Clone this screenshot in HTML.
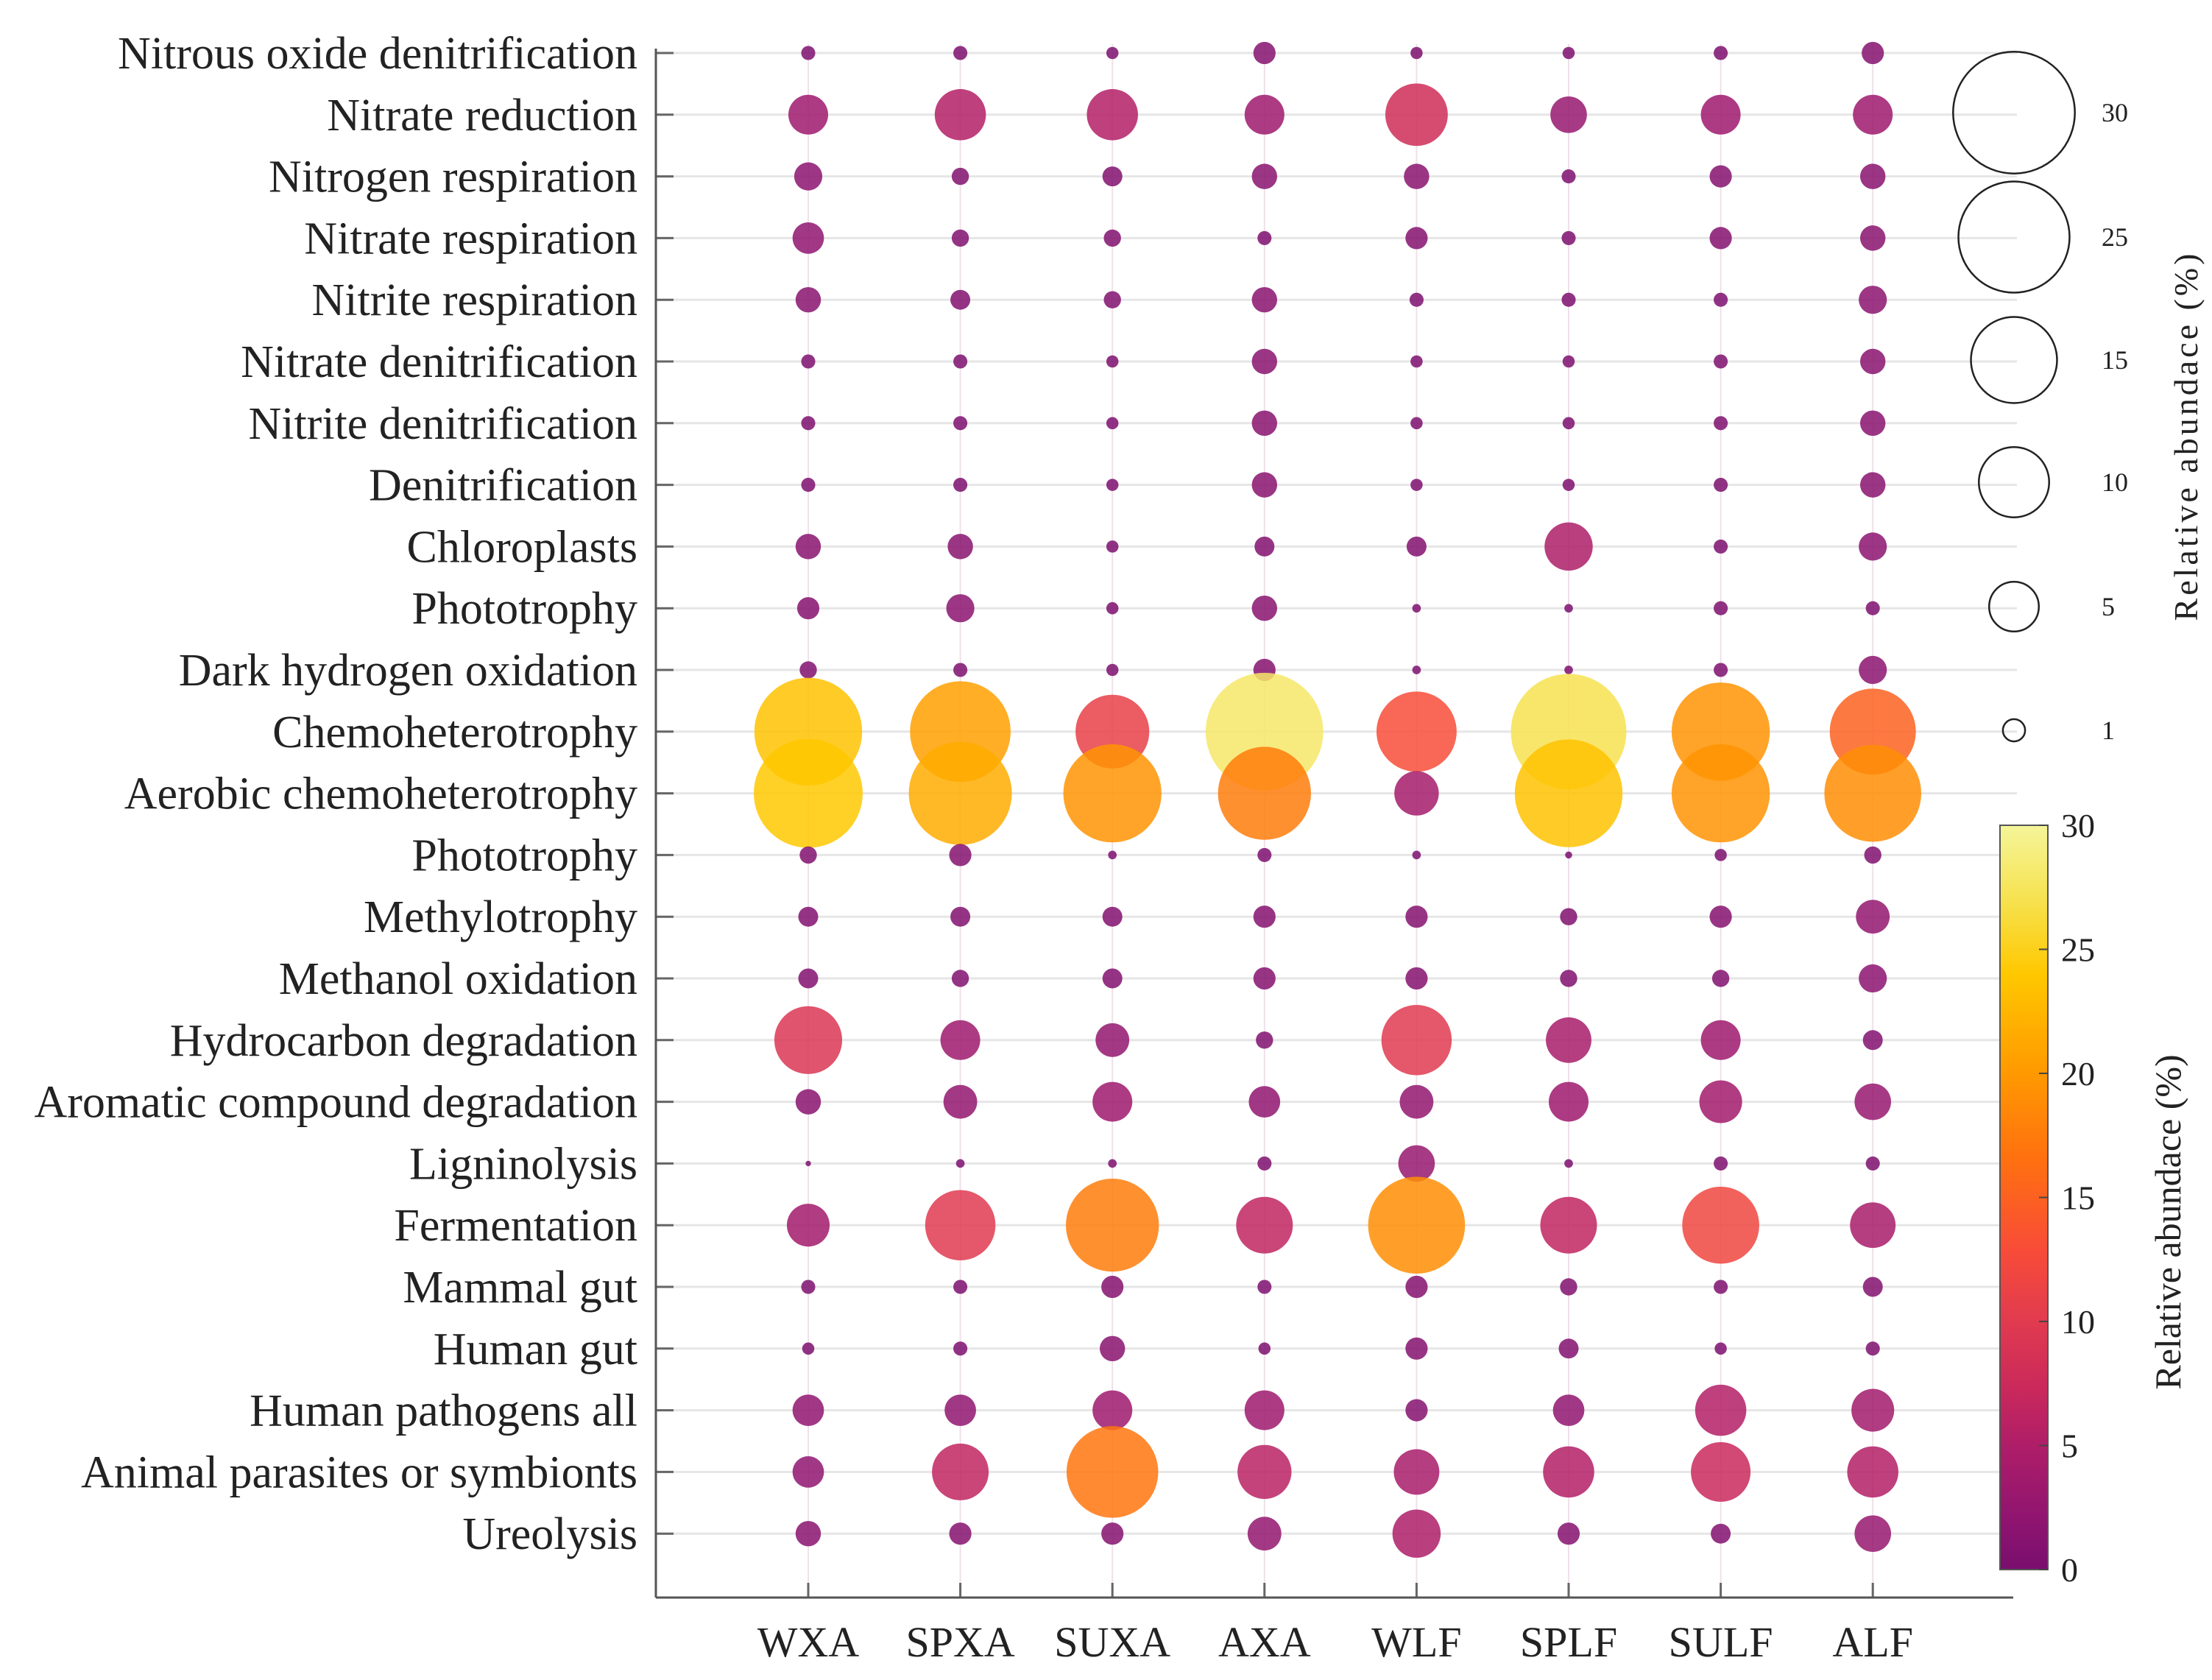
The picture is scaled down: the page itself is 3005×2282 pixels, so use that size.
<!DOCTYPE html>
<html><head><meta charset="utf-8"><style>html,body{margin:0;padding:0;background:#fff}svg{display:block}</style></head>
<body>
<svg id="chart" xmlns="http://www.w3.org/2000/svg" width="3005" height="2282" viewBox="0 0 3005 2282" font-family="'Liberation Serif', serif">
<defs>
<linearGradient id="cmap" x1="0" y1="1" x2="0" y2="0">
<stop offset="0" stop-color="#7a0e6e"/><stop offset="0.07" stop-color="#901570"/><stop offset="0.17" stop-color="#b01e68"/><stop offset="0.25" stop-color="#cc2a5a"/><stop offset="0.33" stop-color="#e03a50"/><stop offset="0.43" stop-color="#f84c38"/><stop offset="0.55" stop-color="#ff7010"/><stop offset="0.67" stop-color="#ff9a00"/><stop offset="0.8" stop-color="#ffc800"/><stop offset="0.9" stop-color="#f6e250"/><stop offset="1" stop-color="#f5f59a"/>
</linearGradient>
</defs>
<g id="grid"></g>
<g id="marks"></g>
<g id="axes"></g>
<g id="legend"></g>
<g id="cbar"></g>
</svg>
<script>
const categories = ["WXA","SPXA","SUXA","AXA","WLF","SPLF","SULF","ALF"];
const functions = ["Nitrous oxide denitrification","Nitrate reduction","Nitrogen respiration","Nitrate respiration","Nitrite respiration","Nitrate denitrification","Nitrite denitrification","Denitrification","Chloroplasts","Phototrophy","Dark hydrogen oxidation","Chemoheterotrophy","Aerobic chemoheterotrophy","Phototrophy","Methylotrophy","Methanol oxidation","Hydrocarbon degradation","Aromatic compound degradation","Ligninolysis","Fermentation","Mammal gut","Human gut","Human pathogens all","Animal parasites or symbionts","Ureolysis"];
const valWXA  = [0.4,3.2,1.6,2.0,1.3,0.4,0.4,0.4,1.3,1.0,0.6,23.5,24.0,0.6,0.8,0.8,9.3,1.3,0.06,3.7,0.4,0.3,2.0,2.0,1.3];
const valSPXA = [0.4,5.3,0.6,0.6,0.8,0.4,0.4,0.4,1.3,1.6,0.4,20.5,21.5,1.0,0.8,0.6,3.2,2.3,0.15,10.0,0.4,0.4,2.0,6.5,1.0];
const valSUXA = [0.3,5.3,0.8,0.6,0.6,0.3,0.3,0.3,0.3,0.3,0.3,11.0,19.5,0.15,0.8,0.8,2.3,3.2,0.15,17.5,1.0,1.3,3.2,17.0,1.0];
const valAXA  = [1.0,3.2,1.3,0.4,1.3,1.3,1.3,1.3,0.8,1.3,1.0,28.0,17.5,0.4,1.0,1.0,0.6,2.0,0.4,6.5,0.4,0.3,3.2,5.9,2.3];
const valWLF  = [0.3,7.9,1.3,1.0,0.4,0.3,0.3,0.3,0.8,0.15,0.15,13.0,4.0,0.15,1.0,1.0,10.0,2.3,2.7,19.0,1.0,1.0,1.0,4.2,4.7];
const valSPLF = [0.3,2.7,0.4,0.4,0.4,0.3,0.3,0.3,4.7,0.15,0.15,27.0,23.5,0.1,0.6,0.6,4.2,3.2,0.15,6.5,0.6,0.8,2.0,5.3,1.0];
const valSULF = [0.4,3.2,1.0,1.0,0.4,0.4,0.4,0.4,0.4,0.4,0.4,19.5,19.5,0.3,1.0,0.6,3.2,3.7,0.4,12.0,0.4,0.3,5.3,7.2,0.8];
const valALF  = [1.0,3.2,1.3,1.3,1.6,1.3,1.3,1.3,1.6,0.4,1.6,15.0,19.0,0.6,2.3,1.6,0.8,2.7,0.4,4.2,0.8,0.4,3.7,5.3,2.7];
const seriesValues = [valWXA,valSPXA,valSUXA,valAXA,valWLF,valSPLF,valSULF,valALF];
const sizeLegendValues = [30,25,15,10,5,1];
const colorTicks = [0,5,10,15,20,25,30];

const NS="http://www.w3.org/2000/svg";
function mk(tag,attrs,parent){const e=document.createElementNS(NS,tag);for(const k in attrs)e.setAttribute(k,attrs[k]);parent.appendChild(e);return e;}
const X0=891, X1=2740, Y0=60, YB=2170;
const xCol = i => 1098 + i*206.6;
const yRow = j => 72 + j*83.8;
const rScale = v => 15.1*Math.sqrt(v);
const stops=[[0,[122,14,110]],[2,[144,21,112]],[5,[176,30,104]],[7.5,[204,42,90]],[10,[224,58,80]],[13,[248,76,56]],[16.5,[255,112,16]],[20,[255,154,0]],[24,[255,200,0]],[27,[246,226,80]],[30,[245,245,154]]];
function cmap(v){v=Math.max(0,Math.min(30,v));for(let i=1;i<stops.length;i++){if(v<=stops[i][0]){const a=stops[i-1],b=stops[i],t=(v-a[0])/(b[0]-a[0]);return 'rgb('+a[1].map((c,k)=>Math.round(c+(b[1][k]-c)*t)).join(',')+')';}}return 'rgb(245,245,154)';}

const grid=document.getElementById('grid'), marks=document.getElementById('marks'), axes=document.getElementById('axes'), legend=document.getElementById('legend'), cbar=document.getElementById('cbar');
functions.forEach((f,j)=>{
  const l=mk('line',{x1:X0,x2:X1,y1:yRow(j),y2:yRow(j),stroke:'#e6e6e6','stroke-width':3},grid);
  
  
  const t=mk('line',{x1:X0,x2:X0+24,y1:yRow(j),y2:yRow(j),stroke:'#666','stroke-width':3},axes);
  
  
  const tx=mk('text',{x:866,y:yRow(j)+21,'text-anchor':'end','font-size':62,fill:'#222'},axes);
  tx.textContent=f;
  
  
});
categories.forEach((c,i)=>{
  const l=mk('line',{x1:xCol(i),x2:xCol(i),y1:Y0,y2:YB,stroke:'#f0e0ea','stroke-width':2},grid);
  
  
  const t=mk('line',{x1:xCol(i),x2:xCol(i),y1:YB,y2:YB-20,stroke:'#666','stroke-width':3},axes);
  
  
  const tx=mk('text',{x:xCol(i),y:2250,'text-anchor':'middle','font-size':58,fill:'#222'},axes);
  tx.textContent=c;
  
  
});
const ya=mk('line',{x1:X0,x2:X0,y1:66,y2:YB,stroke:'#555','stroke-width':3},axes);


const xa=mk('line',{x1:X0,x2:2735,y1:YB,y2:YB,stroke:'#555','stroke-width':3},axes);



functions.forEach((f,j)=>{
  seriesValues.forEach((arr,i)=>{
    const v=arr[j];
    const c=mk('ellipse',{cx:xCol(i),cy:yRow(j),rx:rScale(v),ry:rScale(v),fill:cmap(v),'fill-opacity':0.85},marks);
    
    
  });
});

const legY=[153,322,489,655,824,992];
sizeLegendValues.forEach((v,k)=>{
  const c=mk('circle',{cx:2736,cy:legY[k],r:rScale(v),fill:'none',stroke:'#222','stroke-width':2.5},legend);
  
  
  const t=mk('text',{x:2855,y:legY[k]+12,'font-size':36,fill:'#222'},legend);
  t.textContent=String(v);
  
  
});
const lt=mk('text',{x:0,y:0,transform:'translate(2985,592) rotate(-90)','text-anchor':'middle','font-size':46,'letter-spacing':4,fill:'#222'},legend);
lt.textContent='Relative abundace (%)';



const CB_T=1121, CB_B=2132;
const cy = v => CB_B - (v/30)*(CB_B-CB_T);
const bar=mk('rect',{x:2717,y:CB_T,width:65,height:CB_B-CB_T,fill:'url(#cmap)',stroke:'#555','stroke-width':2},cbar);


colorTicks.forEach(v=>{
  const tk=mk('line',{x1:2770,x2:2782,y1:cy(v),y2:cy(v),stroke:'#444','stroke-width':2},cbar);
  
  
  const t=mk('text',{x:2800,y:cy(v)+16,'font-size':46,fill:'#222'},cbar);
  t.textContent=String(v);
  
  
});
const ct=mk('text',{x:0,y:0,transform:'translate(2962,1660) rotate(-90)','text-anchor':'middle','font-size':50,fill:'#222'},cbar);
ct.textContent='Relative abundace (%)';


</script>
</body></html>
